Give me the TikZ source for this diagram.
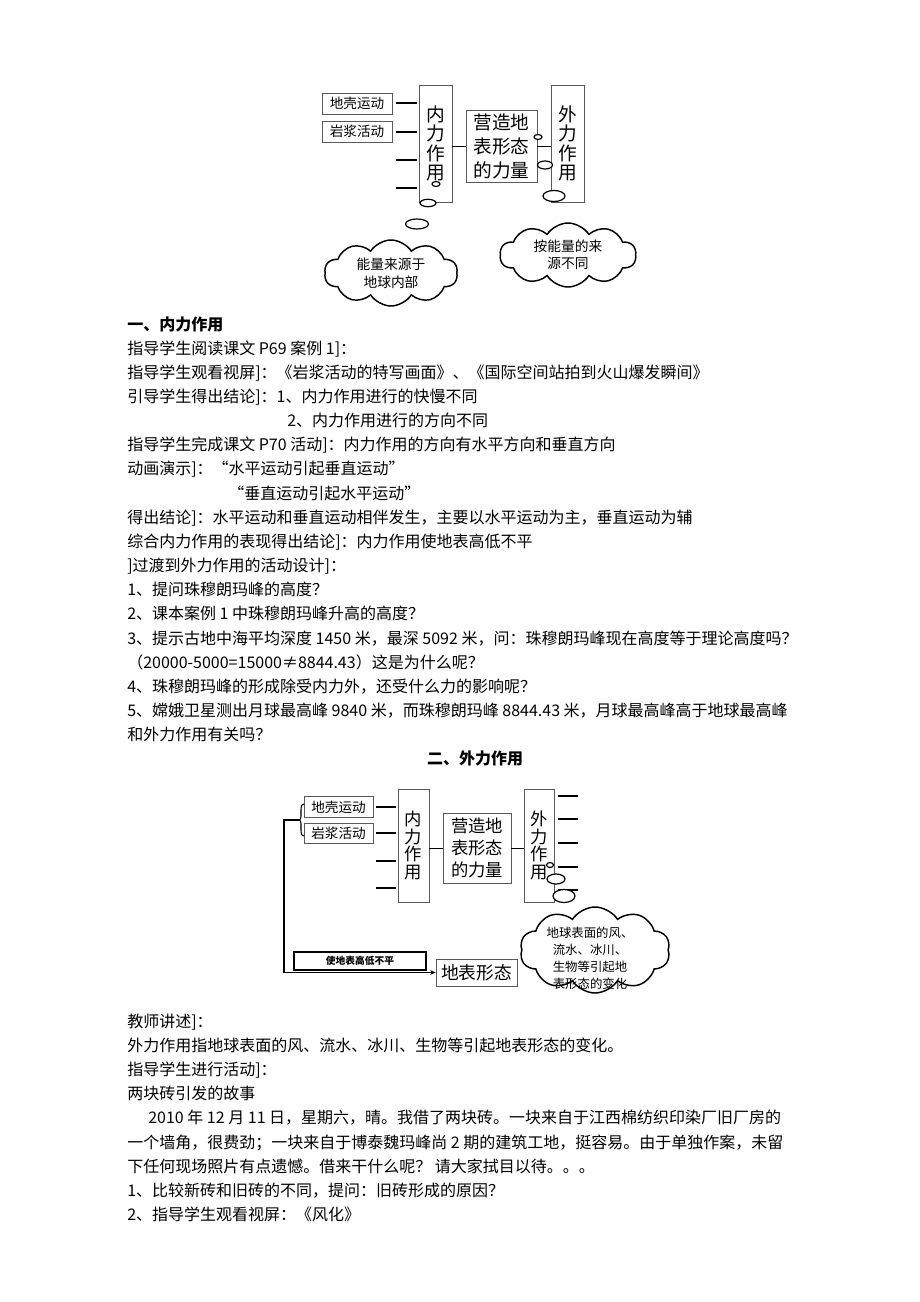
\documentclass[tikz,border=0pt]{standalone}
\usepackage{fontspec}
\newfontfamily\cjk{Noto Sans CJK SC}
\usetikzlibrary{shapes.symbols,arrows.meta}
\def\pxu{0.75pt}
\begin{document}
\begin{tikzpicture}[x=0.75pt,y=-0.75pt,
  txt/.style={anchor=base west, inner sep=0pt, font={\cjk\fontsize{12pt}{14pt}\selectfont}},
  head/.style={txt, font={\cjk\bfseries\fontsize{12pt}{14pt}\selectfont}},
  sbox/.style={draw=black!65, line width=0.6pt, inner sep=0pt, minimum width=70*\pxu, minimum height=21*\pxu, font={\cjk\fontsize{10.2pt}{12pt}\selectfont}},
  vbox/.style={draw=black!65, line width=0.6pt, inner sep=0pt, align=center, minimum width=33*\pxu, minimum height=117*\pxu, font={\cjk\fontsize{14pt}{14.7pt}\selectfont}},
  mbox/.style={draw=black!65, line width=0.6pt, inner sep=0pt, align=center, minimum width=71*\pxu, minimum height=72*\pxu, font={\cjk\fontsize{14pt}{18pt}\selectfont}},
  stub/.style={line width=1.3pt},
  link/.style={line width=0.7pt},
  bub/.style={draw, fill=white, line width=0.9pt},
  cloudy/.style={cloud, draw, line width=1.1pt, fill=white, cloud puffs=10, cloud puff arc=115, aspect=2, cloud ignores aspect, inner sep=0pt, align=center, font={\cjk\fontsize{10.3pt}{13.5pt}\selectfont}},
]
\useasboundingbox (0,0) rectangle (920,1302);

% ---------------- top diagram ----------------
\node[sbox] (a1) at (357,103.5) {地壳运动};
\node[sbox] (a2) at (357,131.5) {岩浆活动};
\node[vbox] (n1) at (435.5,143.5) {内\\力\\作\\用};
\node[mbox] (m1) at (501.5,146) {营造地\\表形态\\的力量};
\node[vbox] (w1) at (567.5,143.5) {外\\力\\作\\用};
\foreach \yy in {103,132,160,188} \draw[stub] (396,\yy) -- (417,\yy);
\draw[link] (n1.east |- m1.west) -- (m1.west);
\draw[link] (m1.east) -- (w1.west |- m1.east);
\draw[bub] (436,184) ellipse [x radius=4*\pxu, y radius=2.5*\pxu];
\draw[bub] (428,203) ellipse [x radius=8*\pxu, y radius=3.7*\pxu];
\draw[bub] (417,224) ellipse [x radius=11.5*\pxu, y radius=5*\pxu];
\draw[bub] (538,137) ellipse [x radius=4*\pxu, y radius=2.5*\pxu];
\draw[bub] (545,165) ellipse [x radius=7.5*\pxu, y radius=4*\pxu];
\draw[bub] (554,196) ellipse [x radius=11*\pxu, y radius=5.5*\pxu];
\node[cloudy, minimum width=133*\pxu, minimum height=66*\pxu] (c1) at (391,273) {能量来源于\\地球内部};
\node[cloudy, minimum width=136*\pxu, minimum height=64*\pxu, font={\cjk\fontsize{10.3pt}{12.5pt}\selectfont}] (c2) at (568,255) {按能量的来\\源不同};

% ---------------- text block 1 ----------------
\node[head] (t1) at (127,330) {一、内力作用};
\node[txt] (t2) at (127,354.2) {指导学生阅读课文 P69 案例 1]：};
\node[txt] (t3) at (127,378.3) {指导学生观看视屏]：《岩浆活动的特写画面》、《国际空间站拍到火山爆发瞬间》};
\node[txt] (t4) at (127,402.5) {引导学生得出结论]：1、内力作用进行的快慢不同};
\node[txt] (t5) at (287,426.6) {2、内力作用进行的方向不同};
\node[txt] (t6) at (127,450.8) {指导学生完成课文 P70 活动]：内力作用的方向有水平方向和垂直方向};
\node[txt] (t7) at (127,474.9) {动画演示]：“水平运动引起垂直运动”};
\node[txt] (t8) at (228,499.1) {“垂直运动引起水平运动”};
\node[txt] (t9) at (127,523.2) {得出结论]：水平运动和垂直运动相伴发生，主要以水平运动为主，垂直运动为辅};
\node[txt] (t10) at (127,547.4) {综合内力作用的表现得出结论]：内力作用使地表高低不平};
\node[txt] (t11) at (127,571.5) {]过渡到外力作用的活动设计]：};
\node[txt] (t12) at (127,595.7) {1、提问珠穆朗玛峰的高度？};
\node[txt] (t13) at (127,619.8) {2、课本案例 1 中珠穆朗玛峰升高的高度？};
\node[txt] (t14) at (127,644) {3、提示古地中海平均深度 1450 米，最深 5092 米，问：珠穆朗玛峰现在高度等于理论高度吗？};
\node[txt] (t15) at (127,668.1) {（20000-5000=15000≠8844.43）这是为什么呢？};
\node[txt] (t16) at (127,692.3) {4、珠穆朗玛峰的形成除受内力外，还受什么力的影响呢？};
\node[txt] (t17) at (127,716.4) {5、嫦娥卫星测出月球最高峰 9840 米，而珠穆朗玛峰 8844.43 米，月球最高峰高于地球最高峰};
\node[txt] (t18) at (127,740.6) {和外力作用有关吗？};
\node[head, anchor=base] (t19) at (475,764.7) {二、外力作用};

% ---------------- bottom diagram ----------------
\node[sbox, minimum width=69*\pxu, minimum height=20.5*\pxu] (b1) at (338.5,807) {地壳运动};
\node[sbox, minimum width=69*\pxu, minimum height=20.5*\pxu] (b2) at (338.5,833.5) {岩浆活动};
\node[vbox, minimum width=31*\pxu, minimum height=113*\pxu, font={\cjk\fontsize{13pt}{13.4pt}\selectfont}] (n2) at (413.5,845.5) {内\\力\\作\\用};
\node[mbox, minimum width=68*\pxu, minimum height=70*\pxu, font={\cjk\fontsize{13pt}{16.5pt}\selectfont}] (m2) at (477,848) {营造地\\表形态\\的力量};
\node[vbox, minimum width=30*\pxu, minimum height=113*\pxu, font={\cjk\fontsize{13pt}{13.4pt}\selectfont}] (w2) at (539,845.5) {外\\力\\作\\用};
\foreach \yy in {807,833,861,888} \draw[stub] (376,\yy) -- (396,\yy);
\foreach \yy in {796,819,843,867,890} \draw[stub] (558,\yy) -- (578,\yy);
\draw[link] (n2.east |- m2.west) -- (m2.west);
\draw[link] (m2.east) -- (w2.west |- m2.east);
\draw[bub] (550,865) ellipse [x radius=3.5*\pxu, y radius=2.5*\pxu];
\draw[bub] (556,879) ellipse [x radius=9*\pxu, y radius=5*\pxu];
\draw[bub] (564,896) ellipse [x radius=11*\pxu, y radius=6.5*\pxu];
% brace
\coordinate (bt) at (299,820);
\coordinate (bc) at (284,820);
\draw[line width=0.8pt] (304,804) .. controls (301.5,804) and (301,806) .. (301,809) -- (301,816) .. controls (301,818.5) and (300.5,820) .. (bt) .. controls (300.5,820) and (301,821.5) .. (301,824) -- (301,831) .. controls (301,834) and (301.5,836) .. (304,836);
\node[draw, line width=1.3pt, inner sep=0pt, minimum width=132*\pxu, minimum height=18*\pxu, font={\cjk\bfseries\fontsize{7.3pt}{8pt}\selectfont}] (dd) at (360,961) {使地表高低不平};
\node[draw=black!65, line width=0.6pt, inner sep=0pt, minimum width=81*\pxu, minimum height=27*\pxu, font={\cjk\fontsize{13.3pt}{15pt}\selectfont}] (db) at (476.5,972.5) {地表形态};
\draw[line width=1.1pt, -{Stealth[length=4pt,width=3.5pt]}] (bt) -- (bc) |- (db.west);
\node[cloudy, minimum width=150*\pxu, minimum height=86*\pxu] (c3) at (595,950) {};
\node[inner sep=0pt, align=center, font={\cjk\fontsize{9.3pt}{12.75pt}\selectfont}] (c3t) at (590,958) {地球表面的风、\\流水、冰川、\\生物等引起地\\表形态的变化};

% ---------------- text block 2 ----------------
\node[txt] (t20) at (127,1027) {教师讲述]：};
\node[txt] (t21) at (127,1051.2) {外力作用指地球表面的风、流水、冰川、生物等引起地表形态的变化。};
\node[txt] (t22) at (127,1075.4) {指导学生进行活动]：};
\node[txt] (t23) at (127,1099.6) {两块砖引发的故事};
\node[txt] (t24) at (148,1123.8) {2010 年 12 月 11 日，星期六，晴。我借了两块砖。一块来自于江西棉纺织印染厂旧厂房的};
\node[txt] (t25) at (127,1148) {一个墙角，很费劲；一块来自于博泰魏玛峰尚 2 期的建筑工地，挺容易。由于单独作案，未留};
\node[txt] (t26) at (127,1172.2) {下任何现场照片有点遗憾。借来干什么呢？ 请大家拭目以待。。。};
\node[txt] (t27) at (127,1196.4) {1、比较新砖和旧砖的不同，提问：旧砖形成的原因？};
\node[txt] (t28) at (127,1220.6) {2、指导学生观看视屏：《风化》};
\end{tikzpicture}
\end{document}
